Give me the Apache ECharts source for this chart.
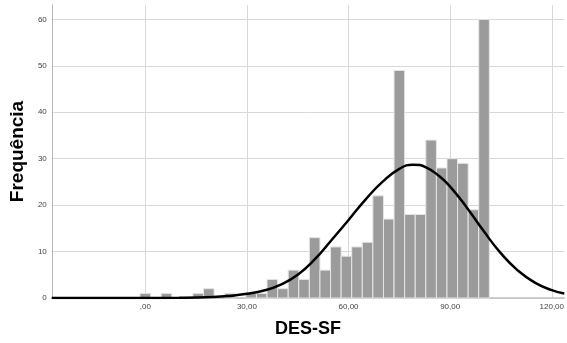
<!DOCTYPE html>
<html>
<head>
<meta charset="utf-8">
<script src="https://cdn.jsdelivr.net/npm/echarts@6/dist/echarts.min.js"></script>
<style>
html,body{margin:0;padding:0;background:#fff}
#chart{width:567px;height:343px}
</style>
</head>
<body>
<div id="chart"></div>
<script>
// histograma DES-SF
var binWidth = 3.125;
var binCenters = [0, 3.125, 6.25, 9.375, 12.5, 15.625, 18.75, 21.875, 25, 28.125, 31.25,
	34.375, 37.5, 40.625, 43.75, 46.875, 50, 53.125, 56.25, 59.375, 62.5, 65.625,
	68.75, 71.875, 75, 78.125, 81.25, 84.375, 87.5, 90.625, 93.75, 96.875, 100];
var binCounts = [1, 0, 1, 0, 0, 1, 2, 0, 1, 0, 1,
	1, 4, 2, 6, 4, 13, 6, 11, 9, 11, 12,
	22, 17, 49, 18, 18, 34, 28, 30, 29, 19, 60];

// curva normal
var curveX = [-27.6, 0, 10, 20, 25, 30, 35, 40, 45, 50, 55, 60, 65, 70, 75, 79, 83, 87, 90, 95, 100, 105, 110, 115, 120, 123.7];
var curveY = [0, 0.02, 0.05, 0.2, 0.45, 0.9, 1.6, 2.9, 5.0, 8.3, 12.5, 16.8, 21.2, 25.0, 27.8, 28.7, 28.1, 26.1, 24.0, 19.4, 14.3, 9.6, 5.9, 3.3, 1.7, 0.95];

var xTicks = [0, 30, 60, 90, 120];
var yTicks = [0, 10, 20, 30, 40, 50, 60];

var histData = [];
for (var i = 0; i < binCenters.length; i++) {
	histData.push([binCenters[i], binCounts[i]]);
}
var curveData = [];
for (var j = 0; j < curveX.length; j++) {
	curveData.push([curveX[j], curveY[j]]);
}

function fmtX(v) {
	var s = v.toFixed(2).replace('.', ',');
	if (s.indexOf('0,') === 0) s = s.substring(1);
	return s;
}

var chart = echarts.init(document.getElementById('chart'));
var option = {
	animation: false,
	grid: { left: 51, right: 0, top: 5, bottom: 44 },
	xAxis: {
		type: 'value',
		min: -27.6,
		max: 123.7,
		name: 'DES-SF',
		nameLocation: 'middle',
		nameGap: 22,
		nameTextStyle: { fontFamily: 'Liberation Sans', fontWeight: 'bold', fontSize: 18, color: '#000' },
		axisLine: { show: true, onZero: false, lineStyle: { color: '#c0c0c0', width: 1.5 } },
		axisTick: { show: false, customValues: xTicks },
		axisLabel: {
			customValues: xTicks,
			formatter: fmtX,
			fontFamily: 'Liberation Sans', fontSize: 8, color: '#444', margin: 5
		},
		splitLine: { show: true, lineStyle: { color: '#d8d8d8', width: 1 } }
	},
	yAxis: {
		type: 'value',
		min: 0,
		max: 63.1,
		name: 'Frequência',
		nameLocation: 'middle',
		nameGap: 24,
		nameTextStyle: { fontFamily: 'Liberation Sans', fontWeight: 'bold', fontSize: 19, color: '#000' },
		axisLine: { show: true, onZero: false, lineStyle: { color: '#b8b8b8', width: 1 } },
		axisTick: { show: false, customValues: yTicks },
		axisLabel: {
			customValues: yTicks,
			fontFamily: 'Liberation Sans', fontSize: 8, color: '#444', margin: 5
		},
		splitLine: { show: true, lineStyle: { color: '#d8d8d8', width: 1 } }
	},
	series: [
		{
			type: 'custom',
			data: histData,
			renderItem: function (params, api) {
				var c = api.value(0);
				var n = api.value(1);
				if (!n) return null;
				var p1 = api.coord([c - binWidth / 2, n]);
				var p2 = api.coord([c + binWidth / 2, 0]);
				return {
					type: 'rect',
					shape: { x: p1[0], y: p1[1], width: p2[0] - p1[0], height: p2[1] - p1[1] },
					style: { fill: '#9b9b9b', stroke: '#e6e6e6', lineWidth: 1 }
				};
			},
			z: 2
		},
		{
			type: 'line',
			data: curveData,
			smooth: true,
			showSymbol: false,
			lineStyle: { color: '#000', width: 2.5 },
			z: 3
		}
	]
};
chart.setOption(option);
</script>
</body>
</html>
